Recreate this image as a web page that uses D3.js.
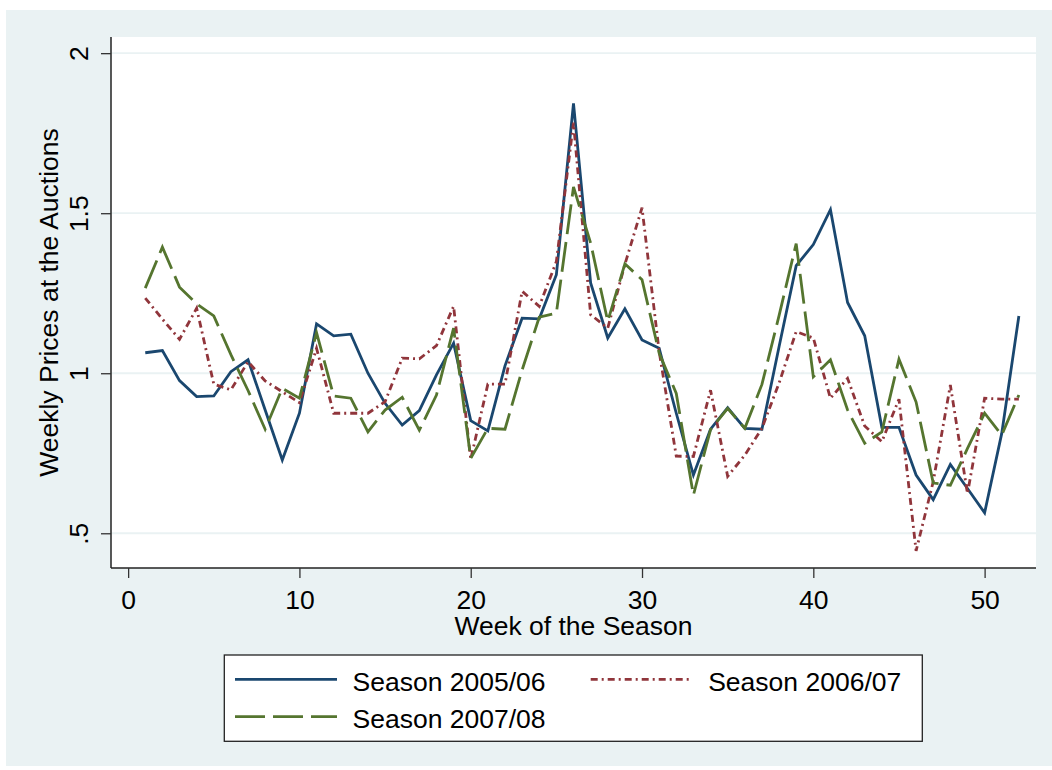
<!DOCTYPE html>
<html>
<head>
<meta charset="utf-8">
<script src="https://cdn.jsdelivr.net/npm/d3@7"></script>
<style>
  body { margin: 0; background: #fff; }
  svg text { font-family: "Liberation Sans", Arial, Helvetica, sans-serif; fill: #000; }
</style>
</head>
<body>
<svg id="chart" width="1052" height="770"></svg>
<script>
// weeks of the season
const weeks = d3.range(1, 53);

// weekly prices
const season0506 = [1.064, 1.071, 0.977, 0.927, 0.929, 1.005, 1.042, 0.885, 0.729, 0.875,
  1.154, 1.117, 1.122, 1.0, 0.906, 0.838, 0.883, 0.995, 1.094, 0.852,
  0.820, 1.023, 1.172, 1.170, 1.308, 1.843, 1.282, 1.110, 1.201, 1.104,
  1.078, 0.875, 0.682, 0.825, 0.892, 0.828, 0.825, 1.083, 1.336, 1.402,
  1.511, 1.221, 1.117, 0.831, 0.831, 0.682, 0.605, 0.715, 0.640, 0.564,
  0.812, 1.179];
const season0607 = [1.235, 1.169, 1.106, 1.203, 0.966, 0.948, 1.036, 0.976, 0.942, 0.908,
  1.078, 0.875, 0.875, 0.875, 0.911, 1.047, 1.045, 1.086, 1.209, 0.731,
  0.966, 0.966, 1.256, 1.209, 1.349, 1.783, 1.183, 1.141, 1.340, 1.517,
  1.068, 0.741, 0.740, 0.947, 0.678, 0.744, 0.828, 0.969, 1.130, 1.110,
  0.922, 0.984, 0.835, 0.786, 0.919, 0.445, 0.661, 0.963, 0.624, 0.922,
  0.919, 0.919];
const season0708 = [1.266, 1.394, 1.269, 1.217, 1.179, 1.058, 0.946, 0.825, 0.953, 0.922,
  1.127, 0.929, 0.922, 0.817, 0.885, 0.925, 0.822, 0.932, 1.141, 0.734,
  0.828, 0.825, 1.010, 1.175, 1.188, 1.582, 1.407, 1.162, 1.342, 1.292,
  1.063, 0.937, 0.619, 0.824, 0.890, 0.828, 0.965, 1.180, 1.405, 0.989,
  1.042, 0.885, 0.781, 0.817, 1.044, 0.910, 0.657, 0.650, 0.765, 0.875,
  0.807, 0.932];

const seriesNames = ['Season 2005/06', 'Season 2006/07', 'Season 2007/08'];
const seriesColors = ['#1a476f', '#90353b', '#55752f'];
const seriesDashes = [null, '7,4,2,4', '30,8'];

const xTicks = [0, 10, 20, 30, 40, 50];
const yTicks = [0.5, 1, 1.5, 2];
const yTickLabels = ['.5', '1', '1.5', '2'];

const svg = d3.select('#chart');
const plot = {left: 111, right: 1036, top: 37, bottom: 568};
const fontSize = 26.5;

// graph region background
svg.append('rect')
  .attr('x', 6).attr('y', 10)
  .attr('width', 1046).attr('height', 756)
  .attr('fill', '#eaf2f3');

svg.append('rect')
  .attr('x', plot.left).attr('y', plot.top)
  .attr('width', plot.right - plot.left)
  .attr('height', plot.bottom - plot.top)
  .attr('fill', '#fff');

let xScale = d3.scaleLinear().domain([-1, 53]).range([plot.left, plot.right]);
let yScale = d3.scaleLinear().domain([0.3915, 2.0505]).range([plot.bottom, plot.top]);

// gridlines
svg.append('g')
  .selectAll('line')
  .data(yTicks)
  .enter()
  .append('line')
  .attr('x1', plot.left).attr('x2', plot.right)
  .attr('y1', d => yScale(d)).attr('y2', d => yScale(d))
  .attr('stroke', '#eaf2f3')
  .attr('stroke-width', 1.8);

// axes
let xAxis = d3.axisBottom(xScale).tickValues(xTicks).tickSize(10).tickPadding(0).tickSizeOuter(0);
let yAxis = d3.axisLeft(yScale).tickValues(yTicks).tickSize(10).tickSizeOuter(0)
  .tickFormat((d, i) => yTickLabels[i]);

let gx = svg.append('g')
  .attr('transform', 'translate(0,' + plot.bottom + ')')
  .call(xAxis);
gx.select('.domain').attr('stroke', '#222').attr('stroke-width', 1.5)
  .attr('d', 'M' + plot.left + ',0H' + plot.right);
gx.selectAll('.tick line').attr('stroke', '#333').attr('stroke-width', 1.3);
gx.selectAll('.tick text')
  .attr('y', 41.3)
  .attr('dy', null)
  .style('font-size', fontSize + 'px')
  .style('font-family', '"Liberation Sans", Arial, sans-serif')
  .attr('fill', '#000');

let gy = svg.append('g')
  .attr('transform', 'translate(' + plot.left + ',0)')
  .call(yAxis);
gy.select('.domain').attr('stroke', '#222').attr('stroke-width', 1.5)
  .attr('d', 'M0,' + plot.top + 'V' + plot.bottom);
gy.selectAll('.tick line').attr('stroke', '#333').attr('stroke-width', 1.3);
gy.selectAll('.tick text')
  .attr('x', null).attr('dy', null)
  .attr('text-anchor', 'middle')
  .attr('transform', 'translate(-23,0) rotate(-90)')
  .style('font-size', fontSize + 'px')
  .style('font-family', '"Liberation Sans", Arial, sans-serif')
  .attr('fill', '#000');

// axis titles
svg.append('text')
  .attr('x', (plot.left + plot.right) / 2)
  .attr('y', 635)
  .attr('text-anchor', 'middle')
  .style('font-size', fontSize + 'px')
  .text('Week of the Season');

svg.append('text')
  .attr('transform', 'translate(58,' + ((plot.top + plot.bottom) / 2) + ') rotate(-90)')
  .attr('text-anchor', 'middle')
  .style('font-size', fontSize + 'px')
  .text('Weekly Prices at the Auctions');

// lines
let allSeries = [season0506, season0607, season0708];
let line = d3.line()
  .x((d, i) => xScale(weeks[i]))
  .y(d => yScale(d));

svg.append('g')
  .selectAll('path')
  .data(allSeries)
  .enter()
  .append('path')
  .attr('d', d => line(d))
  .attr('fill', 'none')
  .attr('stroke', (d, i) => seriesColors[i])
  .attr('stroke-width', 2.8)
  .attr('stroke-linejoin', 'miter')
  .attr('stroke-dasharray', (d, i) => seriesDashes[i]);

// legend
let legend = svg.append('g');
legend.append('rect')
  .attr('x', 224.3).attr('y', 655)
  .attr('width', 698).attr('height', 86.3)
  .attr('fill', '#fff')
  .attr('stroke', '#222')
  .attr('stroke-width', 1.3);

let legendItems = [
  {x: 235, y: 679.3},
  {x: 590.7, y: 679.3},
  {x: 235, y: 716.7},
];
legendItems.forEach((pos, i) => {
  legend.append('line')
    .attr('x1', pos.x).attr('x2', pos.x + 102)
    .attr('y1', pos.y).attr('y2', pos.y)
    .attr('stroke', seriesColors[i])
    .attr('stroke-width', 2.8)
    .attr('stroke-dasharray', seriesDashes[i]);
  legend.append('text')
    .attr('x', pos.x + 117.5)
    .attr('y', pos.y + 11.3)
    .style('font-size', fontSize + 'px')
    .text(seriesNames[i]);
});
</script>
</body>
</html>
